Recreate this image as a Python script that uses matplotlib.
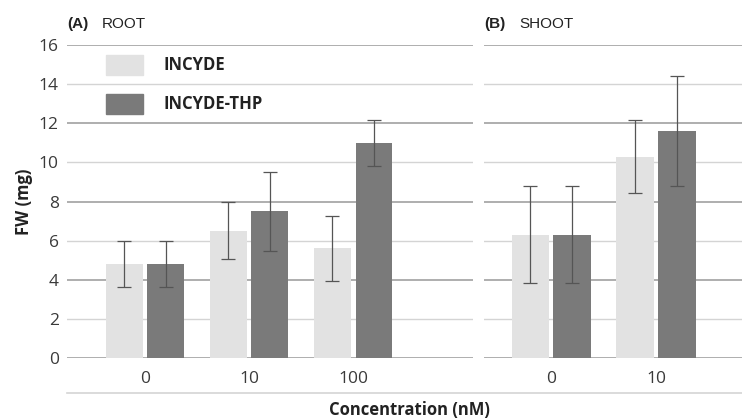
import matplotlib.pyplot as plt
from matplotlib.patches import Rectangle
from matplotlib.transforms import offset_copy
import numpy as np

# fresh weight (mg), mean and error per concentration
root_conc = ['0', '10', '100']
root_incyde = [4.8, 6.5, 5.6]
root_incyde_err = [1.17, 1.45, 1.68]
root_thp = [4.8, 7.5, 11.0]
root_thp_err = [1.17, 2.03, 1.17]

shoot_conc = ['0', '10']
shoot_incyde = [6.3, 10.3]
shoot_incyde_err = [2.47, 1.86]
shoot_thp = [6.3, 11.6]
shoot_thp_err = [2.47, 2.8]

series_names = ['INCYDE', 'INCYDE-THP']
light = '#e2e2e2'
dark = '#7a7a7a'
err_col = '#555555'
fnt = 'Open Sans'

fig = plt.figure(figsize=(7.42, 4.2), dpi=100)


def panel(rect, cats, a, a_err, b, b_err, xlim, title_tag, title_txt):
    ax = fig.add_axes(rect)
    x = np.arange(len(cats))
    w = 0.355
    off = 0.2
    ax.bar(x - off, a, w, color=light, zorder=2)
    ax.bar(x + off, b, w, color=dark, zorder=2)
    ax.errorbar(x - off, a, yerr=a_err, fmt='none', ecolor=err_col,
                elinewidth=0.9, capsize=5, capthick=0.9, zorder=3)
    ax.errorbar(x + off, b, yerr=b_err, fmt='none', ecolor=err_col,
                elinewidth=0.9, capsize=5, capthick=0.9, zorder=3)
    for v in range(0, 17, 2):
        major = v % 4 == 0
        ax.axhline(v, color='#a8a8a8' if major else '#d4d4d4',
                   lw=1.3 if major else 1.0, zorder=1)
    ax.set_ylim(0, 16)
    ax.set_xlim(*xlim)
    for s in ax.spines.values():
        s.set_visible(False)
    ax.set_xticks(x)
    ax.set_xticklabels(cats, fontsize=12.5, family=fnt, color='#3a3a3a')
    ax.tick_params(axis='x', length=0, pad=9)
    ax.set_yticks(range(0, 17, 2))
    ax.tick_params(axis='y', length=0, pad=6, labelsize=12.5,
                   labelcolor='#3a3a3a')
    for t in ax.get_yticklabels():
        t.set_family(fnt)
    ax.text(0.0, 1.045, title_tag, transform=ax.transAxes, fontsize=11,
            fontweight='bold', family='Liberation Sans', color='#222222',
            va='bottom')
    shifted = offset_copy(ax.transAxes, fig=fig, x=25.2, y=0, units='points')
    ax.text(0.0, 1.045, title_txt, transform=shifted, fontsize=11,
            family='Liberation Sans', color='#222222', va='bottom')
    return ax


axA = panel([0.0903, 0.1476, 0.547, 0.7452], root_conc, root_incyde,
            root_incyde_err, root_thp, root_thp_err, (-0.75, 3.15),
            '(A)', 'ROOT')
axB = panel([0.6523, 0.1476, 0.3477, 0.7452], shoot_conc, shoot_incyde,
            shoot_incyde_err, shoot_thp, shoot_thp_err, (-0.64, 1.82),
            '(B)', 'SHOOT')
axB.set_yticklabels([])

# legend drawn inside the root panel
for i, (name, col) in enumerate(zip(series_names, [light, dark])):
    y0 = 0.905 - i * 0.124
    axA.add_patch(Rectangle((0.096, y0), 0.091, 0.064, color=col,
                            transform=axA.transAxes, zorder=4))
    axA.text(0.237, y0 + 0.032, name, transform=axA.transAxes, fontsize=12,
             fontweight='bold', family=fnt, color='#222222', va='center')

axA.set_ylabel('FW (mg)', fontsize=12, fontweight='bold', family=fnt,
               color='#222222', labelpad=4)

# category divider under the tick labels
fig.add_artist(plt.Line2D([67 / 742, 1.0], [1 - 393 / 420, 1 - 393 / 420],
                          color='#d4d4d4', lw=1.2))
fig.text(409 / 742, 1 - 410 / 420, 'Concentration (nM)', ha='center',
         va='center', fontsize=12, fontweight='bold', family=fnt,
         color='#222222')

fig.savefig('out.png', dpi=100)
